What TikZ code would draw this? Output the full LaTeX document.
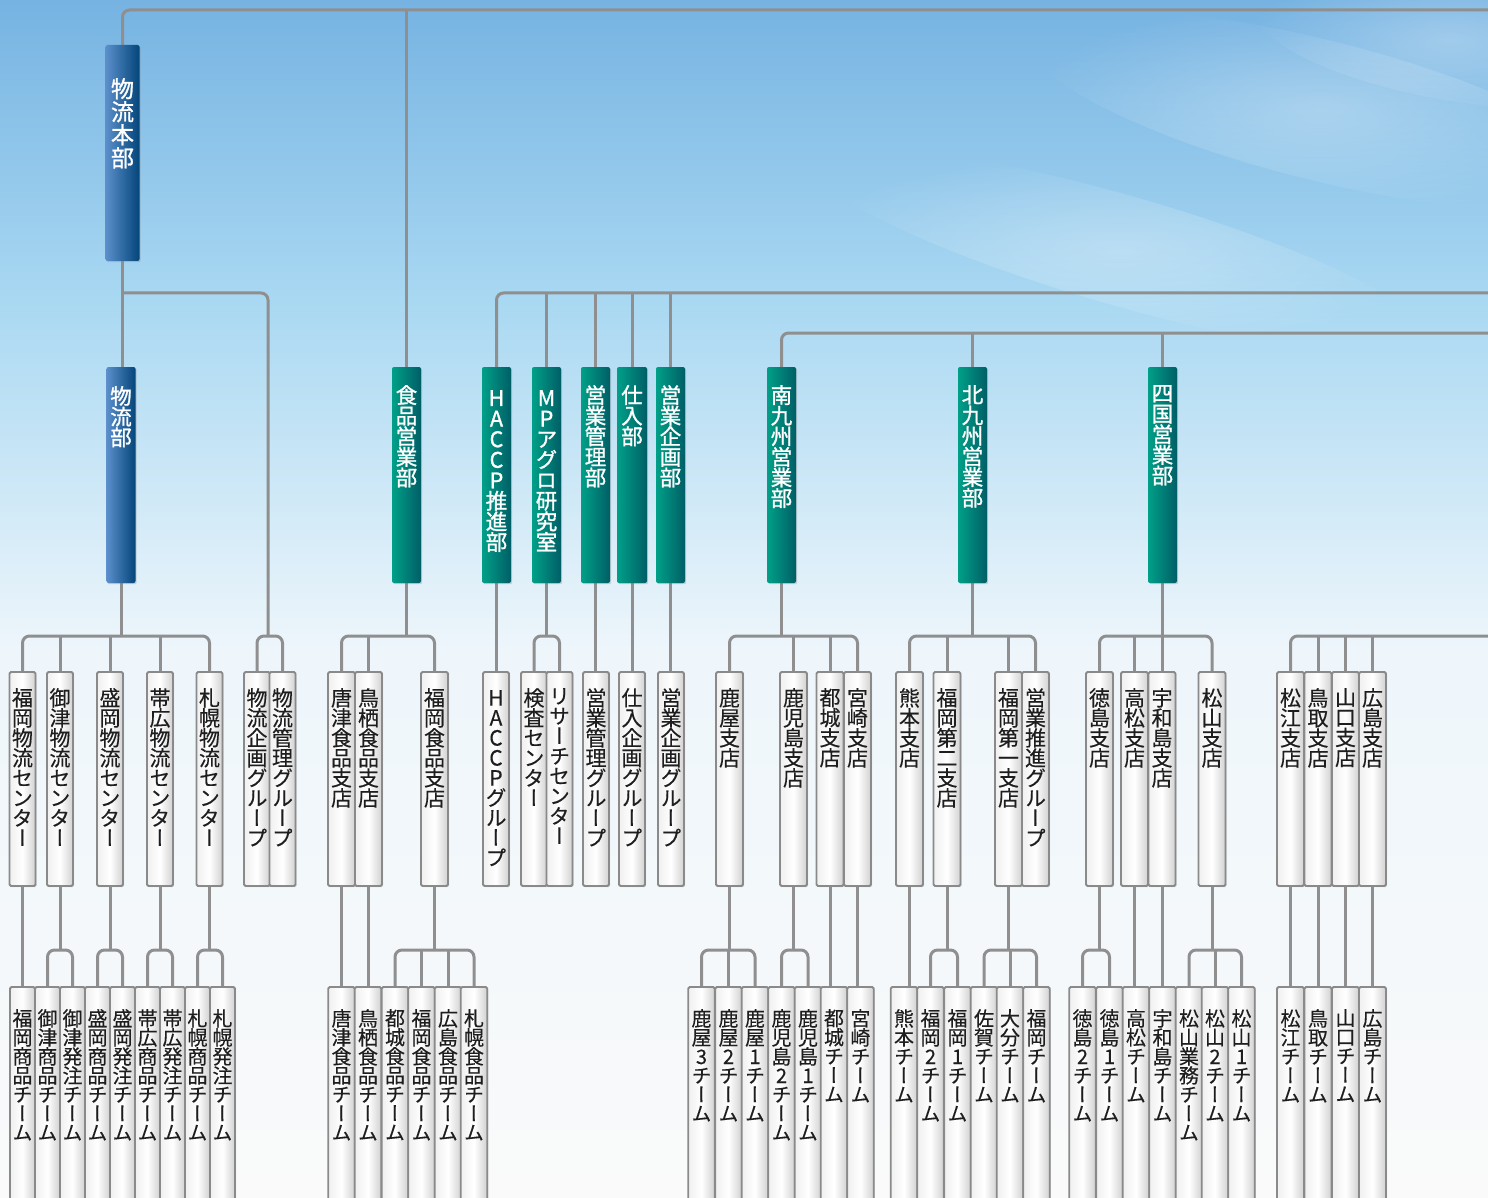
\documentclass[tikz,border=0pt]{standalone}
\usepackage{fontspec}
\newfontfamily\jp[RawFeature={+vert}, FakeBold=0.3]{Noto Sans CJK JP}
\newfontfamily\jpb[RawFeature={+vert}, FakeBold=1.2]{Noto Sans CJK JP}
\usetikzlibrary{shadows,fadings}
\pgfdeclarelayer{sky}
\pgfdeclarelayer{lines}
\pgfsetlayers{sky,lines,main}

\definecolor{lineg}{HTML}{8F8F8F}
\definecolor{blueL}{HTML}{5B8FCB}
\definecolor{blueR}{HTML}{03457A}
\definecolor{grnL}{HTML}{00A088}
\definecolor{grnR}{HTML}{005E66}
\definecolor{boxb}{HTML}{8A8A8A}
\definecolor{txt}{HTML}{1E1E1E}
\definecolor{sky0}{HTML}{76B3E2}
\definecolor{sky1}{HTML}{A9D8F2}
\definecolor{sky2}{HTML}{EEF6FB}
\definecolor{sky3}{HTML}{FAFAFA}

\tikzfading[name=softblob, inner color=transparent!0, outer color=transparent!100]

\makeatletter
\newcommand\tate[1]{\vtop{\lineskiplimit=-\maxdimen\lineskip=0pt\tate@i#1\@nil}}
\def\tate@i#1{\ifx\@nil#1\else\hbox to 1.05em{\hss#1\hss}\expandafter\tate@i\fi}
\makeatother

% #1 style, #2 name, #3 cx, #4 width, #5 top, #6 bottom, #7 text offset, #8 text
\newcommand\orgnode[8]{%
  \node[#1, minimum width=#4pt, minimum height={(#6-#5)*1pt}] (#2) at (#3,{(#5+#6)/2}) {};
  \node[#1text] (#2-t) at ([yshift=-#7pt]#2.north) {\tate{#8}};
}

\tikzset{
  conn/.style={draw=lineg, line width=3pt, rounded corners=7pt},
  boxbase/.style={rectangle, inner sep=0pt, outer sep=0pt},
  hqbox/.style={boxbase, rounded corners=2pt, left color=blueL, right color=blueR,
     drop shadow={shadow xshift=1.2pt, shadow yshift=-1.2pt, opacity=.3}},
  hqboxtext/.style={anchor=north, inner sep=0pt, text=white, font=\jpb\fontsize{23}{23}\selectfont},
  hdblue/.style={hqbox},
  hdbluetext/.style={anchor=north, inner sep=0pt, text=white, font=\jpb\fontsize{21.5}{20.6}\selectfont},
  hdgreen/.style={boxbase, rounded corners=2pt, left color=grnL, right color=grnR,
     drop shadow={shadow xshift=1.2pt, shadow yshift=-1.2pt, opacity=.3}},
  hdgreentext/.style={hdbluetext},
  lthree/.style={boxbase, rounded corners=1.5pt, draw=boxb, line width=1.9pt,
     left color=black!6, right color=black!18, middle color=white,
     drop shadow={shadow xshift=1.2pt, shadow yshift=-1.2pt, opacity=.25}},
  lthreetext/.style={anchor=north, inner sep=0pt, text=txt, font=\jp\fontsize{21}{20}\selectfont},
  lfour/.style={lthree},
  lfourtext/.style={anchor=north, inner sep=0pt, text=txt, font=\jp\fontsize{20}{19}\selectfont},
}

\begin{document}
\begin{tikzpicture}[x=1pt, y=-1pt]
\useasboundingbox (0,0) rectangle (1488,1198);

\begin{pgfonlayer}{sky}
  \shade[top color=sky0, bottom color=sky1] (0,0) rectangle (1488,301);
  \shade[top color=sky1, bottom color=sky2] (0,300) rectangle (1488,651);
  \shade[top color=sky2, bottom color=sky3] (0,650) rectangle (1488,1198);
  \begin{scope}[opacity=.28]
    \fill[white, path fading=softblob, rotate around={-14:(1320,110)}] (1320,110) ellipse (300 and 70);
    \fill[white, path fading=softblob, rotate around={-16:(1120,250)}] (1120,250) ellipse (320 and 55);
    \fill[white, path fading=softblob, rotate around={-10:(1450,40)}] (1450,40) ellipse (200 and 60);
  \end{scope}
\end{pgfonlayer}

\coordinate (Y1) at (0,10);
\coordinate (Y2) at (0,293);
\coordinate (Y3) at (0,333);
\coordinate (Y4) at (0,636);
\coordinate (Y5) at (0,950);
\coordinate (E1) at (1488,10);
\coordinate (E2) at (1488,293);
\coordinate (E3) at (1488,333);
\coordinate (E4) at (1488,636);
\coordinate (K) at (268,293);

% ---------- level 1 / 2 ----------
\orgnode{hqbox}{hq}{122.5}{34}{45}{261}{33}{物流本部}
\orgnode{hdblue}{lb}{121}{29}{367}{583}{19}{物流部}
\orgnode{hdgreen}{food}{406.5}{29}{367}{583}{18}{食品営業部}
\orgnode{hdgreen}{haccp}{496.5}{29}{367}{583}{23}{HACCP推進部}
\orgnode{hdgreen}{mp}{546.5}{29}{367}{583}{23}{MPアグロ研究室}
\orgnode{hdgreen}{eikan}{595.5}{29}{367}{583}{18}{営業管理部}
\orgnode{hdgreen}{shiire}{632}{30}{367}{583}{18}{仕入部}
\orgnode{hdgreen}{eiki}{670.5}{29}{367}{583}{18}{営業企画部}
\orgnode{hdgreen}{minami}{781.5}{29}{367}{583}{18}{南九州営業部}
\orgnode{hdgreen}{kita}{972.5}{29}{367}{583}{18}{北九州営業部}
\orgnode{hdgreen}{shikoku}{1162.5}{29}{367}{583}{18}{四国営業部}

% ---------- level 3 ----------
\orgnode{lthree}{a1}{22.5}{26}{672}{886}{16}{福岡物流センター}
\orgnode{lthree}{a2}{60}{26}{672}{886}{16}{御津物流センター}
\orgnode{lthree}{a3}{110}{26}{672}{886}{16}{盛岡物流センター}
\orgnode{lthree}{a4}{160}{26}{672}{886}{16}{帯広物流センター}
\orgnode{lthree}{a5}{209.5}{26}{672}{886}{16}{札幌物流センター}
\orgnode{lthree}{a6}{257}{26}{672}{886}{16}{物流企画グループ}
\orgnode{lthree}{a7}{282.5}{26}{672}{886}{16}{物流管理グループ}
\orgnode{lthree}{b1}{341.5}{27}{672}{886}{16}{唐津食品支店}
\orgnode{lthree}{b2}{368.5}{27}{672}{886}{16}{鳥栖食品支店}
\orgnode{lthree}{b3}{434.5}{27}{672}{886}{16}{福岡食品支店}
\orgnode{lthree}{c1}{496}{26}{672}{886}{18}{HACCPグループ}
\orgnode{lthree}{c2}{534}{26}{672}{886}{16}{検査センター}
\orgnode{lthree}{c3}{559.5}{26}{672}{886}{16}{リサーチセンター}
\orgnode{lthree}{c4}{596}{26}{672}{886}{16}{営業管理グループ}
\orgnode{lthree}{c5}{632}{26}{672}{886}{16}{仕入企画グループ}
\orgnode{lthree}{c6}{671}{26}{672}{886}{16}{営業企画グループ}
\orgnode{lthree}{d1}{729.5}{27}{672}{886}{16}{鹿屋支店}
\orgnode{lthree}{d2}{793.5}{27}{672}{886}{16}{鹿児島支店}
\orgnode{lthree}{d3}{830}{27}{672}{886}{16}{都城支店}
\orgnode{lthree}{d4}{857.5}{27}{672}{886}{16}{宮崎支店}
\orgnode{lthree}{e1}{909.5}{27}{672}{886}{16}{熊本支店}
\orgnode{lthree}{e2}{947}{27}{672}{886}{16}{福岡第二支店}
\orgnode{lthree}{e3}{1008.5}{27}{672}{886}{16}{福岡第一支店}
\orgnode{lthree}{e4}{1035.5}{27}{672}{886}{16}{営業推進グループ}
\orgnode{lthree}{f1}{1099.5}{27}{672}{886}{16}{徳島支店}
\orgnode{lthree}{f2}{1134.5}{27}{672}{886}{16}{高松支店}
\orgnode{lthree}{f3}{1162}{27}{672}{886}{16}{宇和島支店}
\orgnode{lthree}{f4}{1212}{27}{672}{886}{16}{松山支店}
\orgnode{lthree}{g1}{1290.5}{27}{672}{886}{16}{松江支店}
\orgnode{lthree}{g2}{1318}{27}{672}{886}{16}{鳥取支店}
\orgnode{lthree}{g3}{1345.5}{27}{672}{886}{16}{山口支店}
\orgnode{lthree}{g4}{1372.5}{27}{672}{886}{16}{広島支店}

% ---------- level 4 ----------
\orgnode{lfour}{ta1}{22.5}{25}{987}{1260}{22}{福岡商品チーム}
\orgnode{lfour}{ta2}{47.5}{25}{987}{1260}{22}{御津商品チーム}
\orgnode{lfour}{ta3}{72.5}{25}{987}{1260}{22}{御津発注チーム}
\orgnode{lfour}{ta4}{97.5}{25}{987}{1260}{22}{盛岡商品チーム}
\orgnode{lfour}{ta5}{122.5}{25}{987}{1260}{22}{盛岡発注チーム}
\orgnode{lfour}{ta6}{147.5}{25}{987}{1260}{22}{帯広商品チーム}
\orgnode{lfour}{ta7}{172.5}{25}{987}{1260}{22}{帯広発注チーム}
\orgnode{lfour}{ta8}{197.5}{25}{987}{1260}{22}{札幌商品チーム}
\orgnode{lfour}{ta9}{222.5}{25}{987}{1260}{22}{札幌発注チーム}
\orgnode{lfour}{tb1}{341.5}{26.5}{987}{1260}{22}{唐津食品チーム}
\orgnode{lfour}{tb2}{368}{26.5}{987}{1260}{22}{鳥栖食品チーム}
\orgnode{lfour}{tb3}{395}{26.5}{987}{1260}{22}{都城食品チーム}
\orgnode{lfour}{tb4}{421.5}{26.5}{987}{1260}{22}{福岡食品チーム}
\orgnode{lfour}{tb5}{448}{26.5}{987}{1260}{22}{広島食品チーム}
\orgnode{lfour}{tb6}{474}{26.5}{987}{1260}{22}{札幌食品チーム}
\orgnode{lfour}{td1}{701.5}{26.5}{987}{1260}{22}{鹿屋3チーム}
\orgnode{lfour}{td2}{728.5}{26.5}{987}{1260}{22}{鹿屋2チーム}
\orgnode{lfour}{td3}{755}{26.5}{987}{1260}{22}{鹿屋1チーム}
\orgnode{lfour}{td4}{781.5}{26.5}{987}{1260}{22}{鹿児島2チーム}
\orgnode{lfour}{td5}{808}{26.5}{987}{1260}{22}{鹿児島1チーム}
\orgnode{lfour}{td6}{834}{26.5}{987}{1260}{22}{都城チーム}
\orgnode{lfour}{td7}{860.5}{26.5}{987}{1260}{22}{宮崎チーム}
\orgnode{lfour}{te1}{904}{26.5}{987}{1260}{22}{熊本チーム}
\orgnode{lfour}{te2}{930.5}{26.5}{987}{1260}{22}{福岡2チーム}
\orgnode{lfour}{te3}{957.5}{26.5}{987}{1260}{22}{福岡1チーム}
\orgnode{lfour}{te4}{984}{26.5}{987}{1260}{22}{佐賀チーム}
\orgnode{lfour}{te5}{1010}{26.5}{987}{1260}{22}{大分チーム}
\orgnode{lfour}{te6}{1036.5}{26.5}{987}{1260}{22}{福岡チーム}
\orgnode{lfour}{tf1}{1082.5}{26.5}{987}{1260}{22}{徳島2チーム}
\orgnode{lfour}{tf2}{1109.5}{26.5}{987}{1260}{22}{徳島1チーム}
\orgnode{lfour}{tf3}{1136}{26.5}{987}{1260}{22}{高松チーム}
\orgnode{lfour}{tf4}{1162.5}{26.5}{987}{1260}{22}{宇和島チーム}
\orgnode{lfour}{tf5}{1189}{26.5}{987}{1260}{22}{松山業務チーム}
\orgnode{lfour}{tf6}{1215}{26.5}{987}{1260}{22}{松山2チーム}
\orgnode{lfour}{tf7}{1241.5}{26.5}{987}{1260}{22}{松山1チーム}
\orgnode{lfour}{tg1}{1290.5}{27}{987}{1260}{22}{松江チーム}
\orgnode{lfour}{tg2}{1318}{27}{987}{1260}{22}{鳥取チーム}
\orgnode{lfour}{tg3}{1345.5}{27}{987}{1260}{22}{山口チーム}
\orgnode{lfour}{tg4}{1372.5}{27}{987}{1260}{22}{広島チーム}

% ---------- connectors ----------
\begin{pgfonlayer}{lines}
  % top levels
  \draw[conn] (hq.north) -- (hq.north |- Y1) -- (E1);
  \draw[conn] (food.north) -- (food.north |- Y1);
  \draw[conn] (hq.south) -- (hq.south |- lb.north);
  \draw[conn] (hq.south |- Y2) -- (K) -- (K |- Y4);
  \draw[conn] (a6.north) -- (a6.north |- Y4) -- (a7.north |- Y4) -- (a7.north);
  \draw[conn] (haccp.north) -- (haccp.north |- Y2) -- (E2);
  \foreach \n in {mp,eikan,shiire,eiki} \draw[conn] (\n.north) -- (\n.north |- Y2);
  \draw[conn] (minami.north) -- (minami.north |- Y3) -- (E3);
  \foreach \n in {kita,shikoku} \draw[conn] (\n.north) -- (\n.north |- Y3);

  % level 2 -> 3
  \draw[conn] (lb.south) -- (lb.south |- Y4);
  \draw[conn] (a1.north) -- (a1.north |- Y4) -- (a5.north |- Y4) -- (a5.north);
  \foreach \n in {a2,a3,a4} \draw[conn] (\n.north) -- (\n.north |- Y4);
  \draw[conn] (food.south) -- (food.south |- Y4);
  \draw[conn] (b1.north) -- (b1.north |- Y4) -- (b3.north |- Y4) -- (b3.north);
  \draw[conn] (b2.north) -- (b2.north |- Y4);
  \draw[conn] (haccp.south) -- (haccp.south |- c1.north);
  \draw[conn] (mp.south) -- (mp.south |- Y4);
  \draw[conn] (c2.north) -- (c2.north |- Y4) -- (c3.north |- Y4) -- (c3.north);
  \draw[conn] (eikan.south) -- (eikan.south |- c4.north);
  \draw[conn] (shiire.south) -- (shiire.south |- c5.north);
  \draw[conn] (eiki.south) -- (eiki.south |- c6.north);
  \draw[conn] (minami.south) -- (minami.south |- Y4);
  \draw[conn] (d1.north) -- (d1.north |- Y4) -- (d4.north |- Y4) -- (d4.north);
  \foreach \n in {d2,d3} \draw[conn] (\n.north) -- (\n.north |- Y4);
  \draw[conn] (kita.south) -- (kita.south |- Y4);
  \draw[conn] (e1.north) -- (e1.north |- Y4) -- (e4.north |- Y4) -- (e4.north);
  \foreach \n in {e2,e3} \draw[conn] (\n.north) -- (\n.north |- Y4);
  \draw[conn] (shikoku.south) -- (shikoku.south |- Y4);
  \draw[conn] (f1.north) -- (f1.north |- Y4) -- (f4.north |- Y4) -- (f4.north);
  \foreach \n in {f2,f3} \draw[conn] (\n.north) -- (\n.north |- Y4);
  \draw[conn] (g1.north) -- (g1.north |- Y4) -- (E4);
  \foreach \n in {g2,g3,g4} \draw[conn] (\n.north) -- (\n.north |- Y4);

  % level 3 -> 4
  \draw[conn] (a1.south) -- (a1.south |- ta1.north);
  \draw[conn] (a2.south) -- (a2.south |- Y5);
  \draw[conn] (ta2.north) -- (ta2.north |- Y5) -- (ta3.north |- Y5) -- (ta3.north);
  \draw[conn] (a3.south) -- (a3.south |- Y5);
  \draw[conn] (ta4.north) -- (ta4.north |- Y5) -- (ta5.north |- Y5) -- (ta5.north);
  \draw[conn] (a4.south) -- (a4.south |- Y5);
  \draw[conn] (ta6.north) -- (ta6.north |- Y5) -- (ta7.north |- Y5) -- (ta7.north);
  \draw[conn] (a5.south) -- (a5.south |- Y5);
  \draw[conn] (ta8.north) -- (ta8.north |- Y5) -- (ta9.north |- Y5) -- (ta9.north);

  \draw[conn] (b1.south) -- (b1.south |- tb1.north);
  \draw[conn] (b2.south) -- (b2.south |- tb2.north);
  \draw[conn] (b3.south) -- (b3.south |- Y5);
  \draw[conn] (tb3.north) -- (tb3.north |- Y5) -- (tb6.north |- Y5) -- (tb6.north);
  \foreach \n in {tb4,tb5} \draw[conn] (\n.north) -- (\n.north |- Y5);

  \draw[conn] (d1.south) -- (d1.south |- Y5);
  \draw[conn] (td1.north) -- (td1.north |- Y5) -- (td3.north |- Y5) -- (td3.north);
  \draw[conn] (td2.north) -- (td2.north |- Y5);
  \draw[conn] (d2.south) -- (d2.south |- Y5);
  \draw[conn] (td4.north) -- (td4.north |- Y5) -- (td5.north |- Y5) -- (td5.north);
  \draw[conn] (d3.south) -- (d3.south |- td6.north);
  \draw[conn] (d4.south) -- (d4.south |- td7.north);

  \draw[conn] (e1.south) -- (e1.south |- te1.north);
  \draw[conn] (e2.south) -- (e2.south |- Y5);
  \draw[conn] (te2.north) -- (te2.north |- Y5) -- (te3.north |- Y5) -- (te3.north);
  \draw[conn] (e3.south) -- (e3.south |- Y5);
  \draw[conn] (te4.north) -- (te4.north |- Y5) -- (te6.north |- Y5) -- (te6.north);
  \draw[conn] (te5.north) -- (te5.north |- Y5);

  \draw[conn] (f1.south) -- (f1.south |- Y5);
  \draw[conn] (tf1.north) -- (tf1.north |- Y5) -- (tf2.north |- Y5) -- (tf2.north);
  \draw[conn] (f2.south) -- (f2.south |- tf3.north);
  \draw[conn] (f3.south) -- (f3.south |- tf4.north);
  \draw[conn] (f4.south) -- (f4.south |- Y5);
  \draw[conn] (tf5.north) -- (tf5.north |- Y5) -- (tf7.north |- Y5) -- (tf7.north);
  \draw[conn] (tf6.north) -- (tf6.north |- Y5);

  \draw[conn] (g1.south) -- (g1.south |- tg1.north);
  \draw[conn] (g2.south) -- (g2.south |- tg2.north);
  \draw[conn] (g3.south) -- (g3.south |- tg3.north);
  \draw[conn] (g4.south) -- (g4.south |- tg4.north);
\end{pgfonlayer}
\end{tikzpicture}
\end{document}
